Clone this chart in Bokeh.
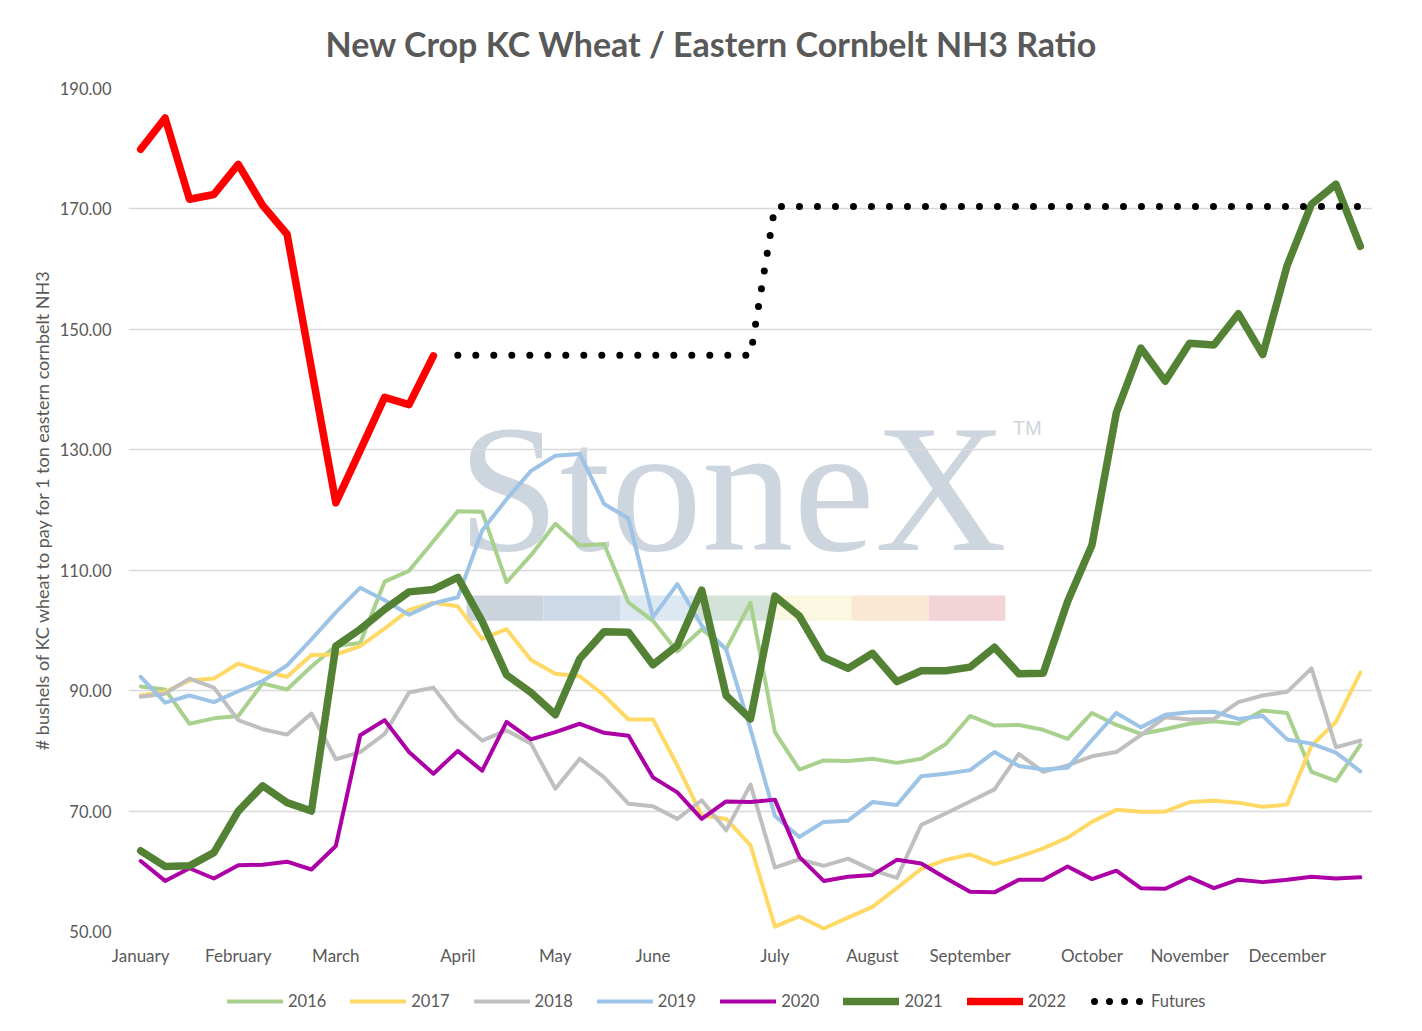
import math
from bokeh.plotting import figure
from bokeh.layouts import column
from bokeh.models import FixedTicker, NumeralTickFormatter, Legend, LegendItem, Range1d
from bokeh.core.properties import value
from bokeh.embed import file_html
from bokeh.resources import INLINE

# ---------------- data ----------------
weeks = list(range(51))
month_names = ["January", "February", "March", "April", "May", "June", "July",
               "August", "September", "October", "November", "December"]
month_weeks = [0, 4, 8, 13, 17, 21, 26, 30, 34, 39, 43, 47]
y_ticks = [50, 70, 90, 110, 130, 150, 170, 190]

s2016 = [90.7, 90.2, 84.5, 85.4, 85.8, 91.2, 90.2, 94.0, 97.4, 97.9, 108.1, 109.9, 114.8,
         119.8, 119.7, 108.0, 112.5, 117.7, 114.1, 114.3, 104.6, 101.6, 96.5, 100.2, 96.9,
         104.6, 83.1, 76.9, 78.4, 78.3, 78.7, 78.0, 78.7, 81.1, 85.8, 84.2, 84.3, 83.5, 82.0,
         86.3, 84.3, 82.8, 83.6, 84.5, 84.9, 84.5, 86.7, 86.3, 76.5, 75.0, 81.0]
s2017 = [89.2, 89.8, 91.7, 92.0, 94.5, 93.2, 92.3, 95.9, 96.0, 97.4, 100.3, 103.4, 104.6,
         104.0, 98.6, 100.2, 95.1, 92.8, 92.4, 89.2, 85.2, 85.2, 77.6, 69.3, 68.7, 64.3,
         50.8, 52.5, 50.5, 52.3, 54.1, 57.2, 60.4, 61.9, 62.8, 61.2, 62.4, 63.8, 65.6, 68.2,
         70.2, 69.9, 69.9, 71.5, 71.7, 71.4, 70.7, 71.1, 80.9, 84.8, 93.0]
s2018 = [89.0, 89.5, 92.0, 90.5, 85.1, 83.6, 82.7, 86.2, 78.6, 79.8, 82.8, 89.7, 90.5,
         85.3, 81.7, 83.4, 81.2, 73.7, 78.7, 75.6, 71.2, 70.8, 68.7, 71.8, 66.8, 74.4, 60.6,
         62.0, 60.9, 62.1, 60.2, 58.9, 67.7, 69.6, 71.6, 73.6, 79.5, 76.5, 77.6, 79.1, 79.8,
         82.6, 85.6, 85.2, 85.3, 88.1, 89.2, 89.8, 93.7, 80.6, 81.7]
s2019 = [92.3, 88.0, 89.2, 88.1, 89.9, 91.6, 94.2, 98.5, 103.0, 107.1, 105.0, 102.6, 104.5,
         105.5, 116.6, 121.8, 126.5, 129.0, 129.3, 121.0, 118.6, 102.2, 107.7, 100.8, 96.9,
         83.6, 69.2, 65.7, 68.2, 68.4, 71.5, 71.0, 75.8, 76.2, 76.8, 79.8, 77.5, 76.9, 77.2,
         81.8, 86.3, 83.9, 86.0, 86.4, 86.5, 85.3, 85.8, 81.9, 81.2, 79.7, 76.6]
s2020 = [61.7, 58.4, 60.5, 58.8, 61.0, 61.1, 61.6, 60.3, 64.2, 82.6, 85.1, 79.8, 76.2,
         80.0, 76.7, 84.8, 81.9, 83.1, 84.5, 83.0, 82.5, 75.6, 73.1, 68.7, 71.6, 71.5, 71.9,
         62.4, 58.4, 59.1, 59.4, 61.9, 61.3, 58.9, 56.6, 56.5, 58.6, 58.6, 60.8, 58.7, 60.1,
         57.2, 57.1, 59.0, 57.2, 58.6, 58.2, 58.6, 59.1, 58.8, 59.0]
s2021 = [63.4, 60.8, 60.9, 63.1, 70.0, 74.2, 71.4, 70.0, 97.4, 100.2, 103.5, 106.4, 106.8,
         108.8, 101.5, 92.6, 89.7, 86.0, 95.3, 99.8, 99.7, 94.3, 97.5, 106.7, 89.2, 85.3,
         105.7, 102.4, 95.5, 93.7, 96.2, 91.5, 93.3, 93.3, 93.9, 97.2, 92.8, 92.9, 104.8,
         114.2, 136.2, 146.9, 141.4, 147.7, 147.4, 152.6, 145.8, 160.6, 170.8, 174.1, 163.8]
s2022 = [179.9, 185.1, 171.6, 172.4, 177.4, 170.6, 165.8, 143.5, 121.2, 129.9, 138.7,
         137.5, 145.6] + [None] * 38
futures = [None] * 13 + [145.7] * 13 + [170.4] * 25

def clean(vals):
    return [math.nan if v is None else v for v in vals]

# ---------------- main figure ----------------
GREY_TXT = "#595959"
FONT = "Lato"
W = 1420

p = figure(width=W, height=968, x_range=Range1d(-0.5, 50.5), y_range=Range1d(50, 190),
           output_backend="svg", toolbar_location=None,
           min_border_left=128, min_border_right=48, min_border_top=88, min_border_bottom=34)
p.outline_line_color = None
p.background_fill_color = "white"
p.border_fill_color = "white"

# title
p.title.text = "New Crop KC Wheat / Eastern Cornbelt NH3 Ratio"
p.title.text_font = FONT
p.title.text_font_style = "bold"
p.title.text_font_size = "34px"
p.title.text_color = GREY_TXT
p.title.align = "left"
p.title.offset = 197
p.title.vertical_align = "top"
p.title.standoff = 45

# grid
p.xgrid.grid_line_color = None
p.ygrid.grid_line_color = "#D9D9D9"
p.ygrid.grid_line_width = 1.5
p.ygrid.ticker = FixedTicker(ticks=y_ticks)

# y axis
p.yaxis.ticker = FixedTicker(ticks=y_ticks)
p.yaxis.formatter = NumeralTickFormatter(format="0.00")
p.yaxis.axis_line_color = None
p.yaxis.major_tick_line_color = None
p.yaxis.minor_tick_line_color = None
p.yaxis.major_tick_out = 0
p.yaxis.major_tick_in = 0
p.yaxis.major_label_standoff = 17
p.yaxis.major_label_text_font = FONT
p.yaxis.major_label_text_font_size = "16.5px"
p.yaxis.major_label_text_color = GREY_TXT
p.yaxis.axis_label = "# bushels of KC wheat to pay for 1 ton eastern cornbelt NH3"
p.yaxis.axis_label_text_font = FONT
p.yaxis.axis_label_text_font_style = "normal"
p.yaxis.axis_label_text_font_size = "18px"
p.yaxis.axis_label_text_color = GREY_TXT
p.yaxis.axis_label_standoff = 4

# x axis
p.xaxis.ticker = FixedTicker(ticks=month_weeks)
p.xaxis.major_label_overrides = {w: m for w, m in zip(month_weeks, month_names)}
p.xaxis.axis_line_color = None
p.xaxis.major_tick_line_color = None
p.xaxis.minor_tick_line_color = None
p.xaxis.major_tick_out = 0
p.xaxis.major_tick_in = 0
p.xaxis.major_label_standoff = 13
p.xaxis.major_label_text_font = FONT
p.xaxis.major_label_text_font_size = "17px"
p.xaxis.major_label_text_color = GREY_TXT

# watermark (behind grid)
wm_left, wm_right = 13.36, 35.45
seg_colors = ["#CBD3DD", "#CDD9E6", "#DCE8F2", "#D4E3D9", "#FAF8E0", "#FAE8D4", "#F2D4D6"]
seg_w = (wm_right - wm_left) / len(seg_colors)
p.quad(left=[wm_left + k * seg_w for k in range(len(seg_colors))],
       right=[wm_left + (k + 1) * seg_w for k in range(len(seg_colors))],
       bottom=[101.6] * len(seg_colors), top=[105.8] * len(seg_colors),
       fill_color=seg_colors, line_color=None, level="image")
p.text(x=[13.0], y=[123.6], text=["StoneX"], text_font=value("Liberation Serif"),
       text_font_size="183px", text_color="#CDD5DF", text_baseline="alphabetic",
       text_align="left", level="image")
p.text(x=[35.75], y=[133.7], text=["TM"], text_font=value("Liberation Sans"),
       text_font_size="20px", text_color="#CDD5DF", text_baseline="alphabetic",
       text_align="left", level="image")

# series
series = [
    ("2016", s2016, "#A9D18E", 4, None),
    ("2017", s2017, "#FFD966", 4, None),
    ("2018", s2018, "#BFBFBF", 4, None),
    ("2019", s2019, "#9DC3E6", 4, None),
    ("2020", s2020, "#AC00A6", 4, None),
    ("2021", s2021, "#548235", 7.5, None),
    ("2022", s2022, "#FF0000", 7.5, None),
    ("Futures", futures, "black", 7, "0 18"),
]
for name, vals, col, w, dash in series:
    kw = dict(line_dash=dash) if dash else {}
    p.line(weeks, clean(vals), line_color=col, line_width=w,
           line_join="round", line_cap="round", **kw)

# ---------------- legend strip (separate figure under the chart) ----------------
# Its ranges keep the series out of view: only the legend is seen here.
LH = 62
q = figure(width=W, height=LH, x_range=Range1d(-0.5, 50.5), y_range=Range1d(1000, 1010),
           output_backend="svg", toolbar_location=None,
           x_axis_location=None, y_axis_location=None,
           min_border_left=0, min_border_right=0, min_border_top=0, min_border_bottom=0)
q.outline_line_color = None
q.grid.visible = False
q.background_fill_color = "white"
q.border_fill_color = "white"

items = []
for name, vals, col, w, dash in series:
    kw = dict(line_dash="0 15", line_dash_offset=11) if dash else {}
    r = q.line(weeks, clean(vals), line_color=col, line_width=w, line_cap="round",
               line_join="round", **kw)
    items.append(LegendItem(label=name, renderers=[r]))

legend = Legend(items=items, orientation="horizontal", location=(99, 19),
                glyph_width=56, glyph_height=20, label_standoff=5, spacing=24,
                padding=5, margin=0, border_line_color=None, background_fill_alpha=0,
                label_text_font=FONT, label_text_font_size="16.5px",
                label_text_color=GREY_TXT)
q.add_layout(legend, "center")

layout = column(p, q, spacing=0)
open("out.html", "w").write(file_html(layout, INLINE))
